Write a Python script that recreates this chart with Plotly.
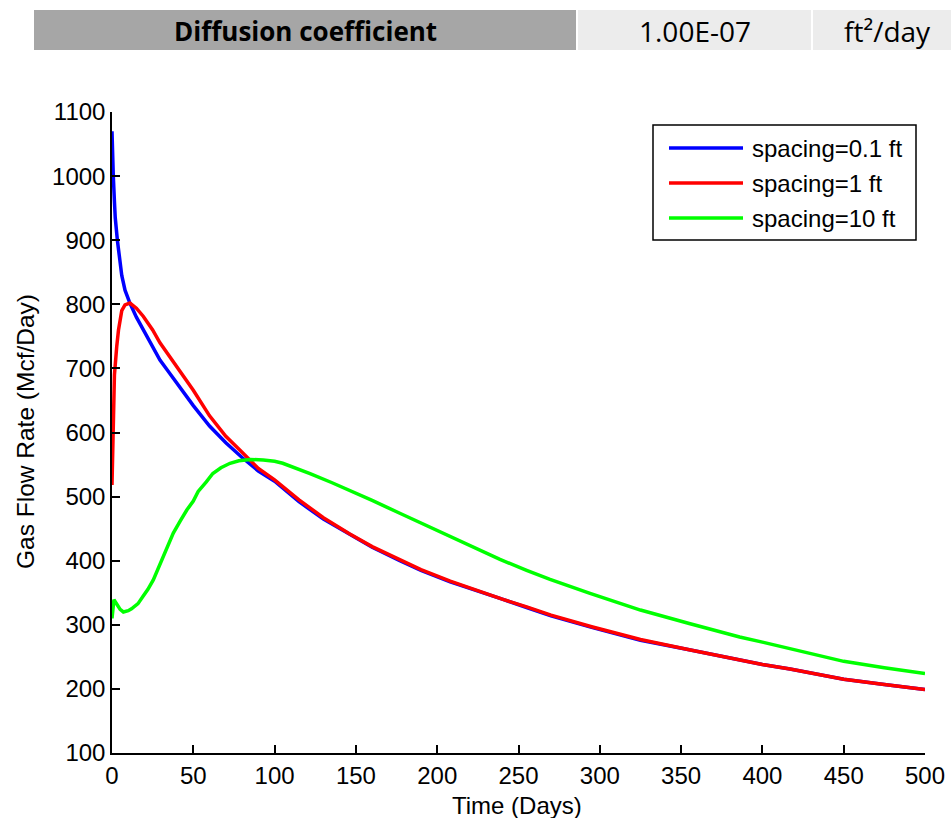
import plotly.graph_objects as go

# ---------------- data ----------------
series_names = ["spacing=0.1 ft", "spacing=1 ft", "spacing=10 ft"]
series_colors = ["#0000ff", "#ff0000", "#00ff00"]

t_blue = [0, 0.3, 0.8, 1.5, 2, 3.3, 4.5, 6, 8, 11, 15, 19.3, 25, 29.5, 35, 39.8, 45, 50,
          60, 70, 80, 90, 100, 115, 130, 146, 160, 177, 190, 208, 225, 240, 255, 270,
          295, 325, 355, 385, 400, 417, 450, 475, 500]
q_blue = [1070, 1030, 1000, 960, 935, 900, 870, 845, 822, 802, 780, 760, 733, 713, 694, 677,
          658, 642, 610, 584, 561, 540, 524, 492, 465, 441, 421, 400, 385, 367, 352, 340,
          327, 314, 296, 276, 261, 246, 238, 231, 215, 207, 199]

t_red = [0, 0.3, 0.8, 1.5, 2.9, 4, 6, 8, 11, 15, 19.3, 25, 29.5, 35, 39.8, 45, 50, 60, 70,
         80, 90, 100, 115, 130, 146, 160, 177, 190, 208, 225, 240, 255, 270, 295, 325, 355,
         385, 400, 417, 450, 475, 500]
q_red = [518, 560, 630, 690, 734, 760, 790, 799, 802, 794, 781, 760, 740, 720, 703, 684, 666,
         626, 594, 569, 544, 526, 495, 467, 442, 422, 401, 386, 368, 353, 340, 328, 315, 297,
         277, 261, 246, 238, 231, 215, 207, 199]

t_green = [0, 0.5, 1.2, 3, 5, 7, 10, 12, 16, 19, 22, 25.4, 28, 31.6, 35, 37.7, 42, 46, 50, 53,
           58, 62, 67, 72.6, 78, 85, 93, 100, 105, 115.6, 121.8, 135, 146, 160, 177, 190, 208,
           225, 238.6, 255, 269.4, 294, 325, 355, 386, 400, 417, 450, 475, 500]
q_green = [310, 330, 339, 332, 324, 320, 322, 325, 333, 344, 355, 370, 385, 406, 427, 443, 462,
           479, 493, 508, 523, 536, 545, 552, 556, 558, 557, 555, 552, 542, 536, 522, 510, 494,
           474, 459, 438, 418, 402, 385, 371, 349, 323, 302, 281, 273, 263, 243, 233, 224]

x_ticks = [0, 50, 100, 150, 200, 250, 300, 350, 400, 450, 500]
y_ticks = [100, 200, 300, 400, 500, 600, 700, 800, 900, 1000, 1100]

header_cells = ["<b>Diffusion coefficient</b>", "1.00E-07", "ft²/day"]
x_title = "Time (Days)"
y_title = "Gas Flow Rate (Mcf/Day)"

# ---------------- layout geometry ----------------
W, H = 951, 818
ML, MR, MT, MB = 112, 26, 112, 65
PW, PH = W - ML - MR, H - MT - MB


def px(x):
    return (x - ML) / PW


def py(y):
    return (H - MB - y) / PH


FONT = "Liberation Sans, Arial, sans-serif"
HFONT = "Open Sans, sans-serif"
FS = 24

fig = go.Figure()
for t, q, name, col in zip([t_blue, t_red, t_green], [q_blue, q_red, q_green],
                           series_names, series_colors):
    fig.add_trace(go.Scatter(x=t, y=q, mode="lines", name=name,
                             line=dict(color=col, width=3.5), showlegend=False))

shapes = []
annotations = []

# header cells: (x0, x1, fill, text centre x, font size)
cells = [(34, 576, "#a6a6a6", 305, 26), (578, 811, "#ececec", 695, 28),
         (813, 951, "#ececec", 887, 28)]
for (x0, x1, c, xc, fs), txt in zip(cells, header_cells):
    shapes.append(dict(type="rect", xref="paper", yref="paper",
                       x0=px(x0), x1=px(x1), y0=py(50), y1=py(10),
                       fillcolor=c, line=dict(width=0), layer="below"))
    annotations.append(dict(xref="paper", yref="paper", x=px(xc), y=py(31),
                            text=txt, showarrow=False, xanchor="center", yanchor="middle",
                            font=dict(family=HFONT, size=fs, color="black")))

# legend box
shapes.append(dict(type="rect", xref="paper", yref="paper",
                   x0=px(653), x1=px(916), y0=py(240), y1=py(125),
                   fillcolor="white", line=dict(color="black", width=1.5)))
for i, (name, col) in enumerate(zip(series_names, series_colors)):
    yy = 148 + 35 * i
    shapes.append(dict(type="line", xref="paper", yref="paper",
                       x0=px(669), x1=px(743), y0=py(yy), y1=py(yy),
                       line=dict(color=col, width=3.5)))
    annotations.append(dict(xref="paper", yref="paper", x=px(750), y=py(yy),
                            text=name, showarrow=False, xanchor="left", yanchor="middle",
                            font=dict(family=FONT, size=FS, color="black")))

# axis titles
annotations.append(dict(xref="paper", yref="paper", x=px(517), y=py(805), text=x_title,
                        showarrow=False, xanchor="center", yanchor="middle",
                        font=dict(family=FONT, size=FS, color="black")))
annotations.append(dict(xref="paper", yref="paper", x=px(25), y=py(432), text=y_title,
                        showarrow=False, xanchor="center", yanchor="middle", textangle=-90,
                        font=dict(family=FONT, size=FS + 0.5, color="black")))

fig.update_layout(
    width=W, height=H,
    margin=dict(l=ML, r=MR, t=MT, b=MB),
    paper_bgcolor="white", plot_bgcolor="white",
    font=dict(family=FONT, size=FS, color="black"),
    shapes=shapes, annotations=annotations,
    showlegend=False,
)
fig.update_xaxes(range=[0, 500], tickvals=x_ticks, showgrid=False, zeroline=False,
                 showline=True, linecolor="black", linewidth=1.5, automargin=False,
                 ticks="inside", ticklen=8, tickwidth=1.5, tickcolor="black",
                 tickfont=dict(size=FS))
fig.update_yaxes(range=[100, 1100], tickvals=y_ticks, showgrid=False, zeroline=False,
                 showline=True, linecolor="black", linewidth=1.5, automargin=False,
                 ticks="inside", ticklen=8, tickwidth=1.5, tickcolor="black",
                 tickfont=dict(size=FS))

fig.write_html("out.html")
